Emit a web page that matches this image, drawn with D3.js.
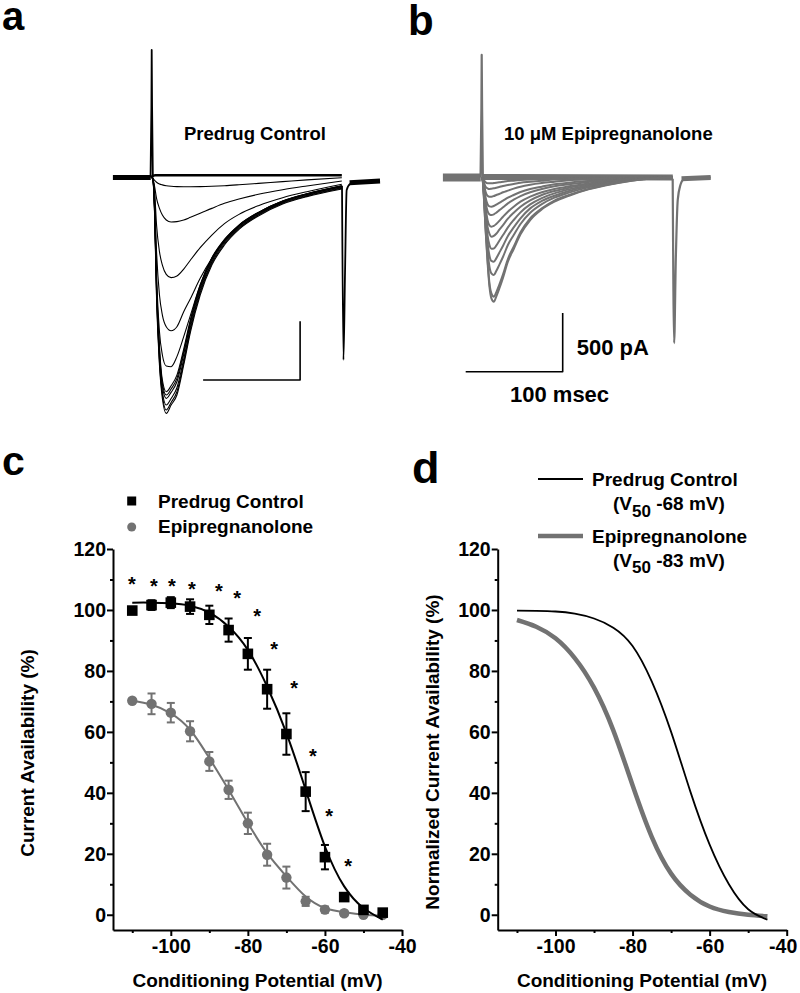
<!DOCTYPE html>
<html><head><meta charset="utf-8">
<script src="https://cdnjs.cloudflare.com/ajax/libs/d3/7.8.5/d3.min.js"></script>
<style>
body{margin:0;background:#fff}
svg{display:block}
text{font-family:"Liberation Sans",Arial,Helvetica,sans-serif;font-weight:bold;fill:#000}
</style>
</head><body>
<svg id="fig" width="800" height="993"></svg>
<script>
// ---------------- DATA ----------------
// panel a: predrug control current traces (time in ms, current in pA)
const traceTimesA = [0,1,3,5,8,11,15,20,26,33,40,50,62,75,90,110,135,160,196];
const tracesA = [
  [0,15,18,20,20,20,20,20,20,20,20,20,20,20,20,20,20,20,20],
  [0,-7,-25,-40,-55,-63,-70,-75,-78,-79,-79,-78,-75,-70,-62,-50,-35,-20,-2],
  [0,-7,-78,-178,-263,-320,-362,-379,-376,-362,-339,-305,-263,-220,-183,-143,-104,-72,-30],
  [0,-7,-121,-405,-632,-746,-825,-853,-839,-780,-703,-598,-490,-393,-314,-240,-172,-121,-58],
  [0,-7,-163,-632,-1001,-1172,-1271,-1305,-1271,-1143,-1030,-859,-689,-541,-413,-300,-203,-141,-70],
  [0,-7,-206,-831,-1314,-1512,-1606,-1612,-1526,-1356,-1172,-916,-689,-533,-405,-297,-200,-138,-70],
  [0,-7,-249,-888,-1441,-1725,-1825,-1774,-1683,-1461,-1206,-916,-683,-527,-405,-297,-200,-138,-72],
  [0,-7,-263,-916,-1470,-1754,-1853,-1802,-1711,-1484,-1223,-930,-692,-533,-410,-302,-206,-143,-78],
  [0,-7,-277,-944,-1498,-1782,-1882,-1830,-1740,-1506,-1243,-944,-703,-541,-416,-308,-209,-146,-81],
  [0,-7,-291,-973,-1541,-1825,-1938,-1882,-1791,-1546,-1271,-964,-717,-552,-425,-314,-214,-152,-87],
  [0,-7,-305,-1001,-1569,-1853,-1981,-1916,-1825,-1575,-1291,-981,-731,-564,-433,-320,-220,-158,-92],
  [0,-7,-320,-1030,-1597,-1882,-2009,-1938,-1853,-1597,-1314,-1001,-746,-575,-442,-328,-226,-163,-98]
];
const preBaseA = [[-40,0],[-1,0]];
const spikeA = [[-1.2,0],[-0.3,600],[0,1086],[0.4,600],[1.2,0]];
const tailA = [[196.2,-70],[197.7,-1554],[199.3,-814],[201,-107],[204.4,-55],[210.6,-38],[235.4,-30]];
const postBaseA = [[204,-45],[235.4,-30]];
const scaleBarA = [[53,-1725],[153,-1725],[153,-1225]];

// panel b: 10 uM epipregnanolone current traces
const traceTimesB = [0,1,2.5,4,6,8,10,12.5,15,18,22,27,33,40,50,62,75,90,110,135,160,197];
const tracesB = [
  [0,-7,-27,-41,-50,-50,-50,-47,-44,-41,-36,-30,-27,-21,-16,-13,-10,-7,-4,-1,-1,-1],
  [0,-10,-47,-78,-92,-98,-95,-92,-87,-81,-72,-64,-55,-44,-36,-27,-18,-13,-7,-4,-1,-1],
  [0,-10,-64,-121,-155,-163,-163,-158,-149,-141,-126,-112,-95,-78,-61,-47,-36,-24,-16,-7,-4,-1],
  [0,-13,-84,-169,-226,-246,-249,-243,-231,-217,-197,-172,-149,-124,-98,-78,-58,-44,-30,-16,-7,-1],
  [0,-13,-101,-206,-285,-314,-320,-314,-300,-280,-254,-220,-189,-158,-126,-98,-75,-58,-38,-21,-7,-1],
  [0,-16,-121,-249,-362,-408,-419,-413,-396,-371,-334,-291,-249,-206,-163,-126,-98,-75,-50,-27,-10,-1],
  [0,-16,-135,-283,-419,-481,-504,-498,-479,-447,-405,-351,-300,-249,-195,-149,-115,-87,-58,-30,-13,-1],
  [0,-18,-149,-320,-490,-575,-606,-604,-581,-541,-490,-425,-362,-297,-229,-175,-135,-101,-67,-36,-13,-1],
  [0,-18,-163,-354,-552,-666,-711,-717,-689,-643,-581,-498,-425,-348,-263,-200,-155,-115,-75,-41,-16,-1],
  [0,-21,-178,-391,-618,-760,-817,-831,-797,-746,-675,-575,-490,-396,-300,-226,-172,-129,-84,-44,-18,-1],
  [0,-21,-200,-433,-694,-902,-987,-1015,-978,-916,-825,-694,-589,-467,-348,-263,-197,-149,-98,-53,-21,-1],
  [0,-21,-206,-447,-717,-930,-1030,-1058,-1015,-950,-853,-717,-609,-484,-362,-271,-206,-155,-101,-55,-21,-1]
];
const preBaseB = [[-40,0],[-1,0]];
const bandB = [[1,5],[197,0]];
const spikeB = [[-1.2,0],[-0.3,600],[0,1044],[0.4,600],[1.2,0]];
const tailB = [[196.9,-10],[198.4,-1410],[200.1,-700],[202.1,-190],[205,-60],[208,-15],[212,0],[236.1,0]];
const postBaseB = [[206,-10],[236.1,0]];
const scaleBarB = [[-16.5,-1655],[83.5,-1655],[83.5,-1155]];

// panel c: steady-state availability (%)
const voltages = [-110,-105,-100,-95,-90,-85,-80,-75,-70,-65,-60,-55,-50,-45];
const controlMean = [99.8,101.6,102.4,101.1,98.4,93.4,85.6,74.0,59.3,40.4,18.9,5.8,1.6,0.7];
const controlSEM  = [0.5,1.6,1.8,2.4,3.0,3.8,5.2,6.4,6.8,6.4,4.0,1.0,0.8,0.5];
const epiMean = [70.2,69.2,66.3,60.2,50.3,41.0,30.0,19.7,12.2,4.4,1.7,0.5,0.0,0.0];
const epiSEM  = [0.5,3.4,3.2,3.3,3.1,3.0,3.5,3.6,3.6,1.5,1.0,0.8,0.5,0.5];
const controlFit = [102.4,102.4,102.2,101.4,99.1,94.5,86.9,74.9,59.6,41.0,22.4,9.3,2.2,-1.6];
const epiFit = [70.2,68.9,66.1,60.7,51.4,41.0,30.1,20.2,12.6,6.0,2.2,0.8,0.0,-0.3];
const starV = [-110.1,-104.4,-99.7,-94.5,-87.5,-82.8,-77.6,-73.2,-68,-63.1,-58.9,-54,-45];
const starY = [109.8,109.2,109.2,108.2,107.5,105.2,99.3,88.5,75.7,53.4,33.8,17.4,0.7];

// panel d: normalized fits
const normControl = [99.8,99.7,99.5,98.8,97.2,94.2,88.2,76.5,60.0,40.4,23.0,10.0,1.8,-1.6];
const normEpi = [96.7,94.5,90.7,84.2,74.5,60.5,42.5,25.5,13.5,6.6,2.7,0.9,0.0,-0.5];

const yMajor = [0,20,40,60,80,100,120];
const yMinor = [10,30,50,70,90,110];
const xMajor = [-100,-80,-60,-40];
const xMinor = [-110,-90,-70,-50];

// ---------------- DRAW ----------------
const GREY = "#727272";
const svg = d3.select("#fig");
svg.append("rect").attr("width",800).attr("height",993).attr("fill","#fff");

const tA = d3.scaleLinear().domain([0,100]).range([151.7,248.7]);
const tB = d3.scaleLinear().domain([0,100]).range([481.7,578.7]);
const iS = d3.scaleLinear().domain([0,-500]).range([177.5,236.2]);

function mkLine(tx, curve){ return d3.line().x(d=>tx(d[0])).y(d=>iS(d[1])).curve(curve); }
function path(g, d, color, w){
  g.append("path").attr("d", d).attr("fill","none").attr("stroke",color)
   .attr("stroke-width",w).attr("stroke-linejoin","round").attr("stroke-linecap","butt");
}

// panel a
const gA = svg.append("g");
const monoA = mkLine(tA, d3.curveMonotoneX), linA = mkLine(tA, d3.curveLinear);
path(gA, linA(preBaseA), "#000", 5);
tracesA.forEach((vals,k)=>{
  path(gA, monoA(traceTimesA.map((t,j)=>[t,vals[j]])), "#000", k===0?2.5:1.1);
});
path(gA, linA(spikeA), "#000", 1.8);
path(gA, monoA(tailA), "#000", 1.8);
path(gA, linA(postBaseA), "#000", 5);
path(gA, linA(scaleBarA), "#000", 1.6);

// panel b
const gB = svg.append("g");
const monoB = mkLine(tB, d3.curveMonotoneX), linB = mkLine(tB, d3.curveLinear);
path(gB, linB(preBaseB), GREY, 8);
path(gB, linB(bandB), GREY, 6);
tracesB.forEach(vals=>{
  path(gB, monoB(traceTimesB.map((t,j)=>[t,vals[j]])), GREY, 2);
});
path(gB, linB(spikeB), GREY, 2.2);
path(gB, monoB(tailB), GREY, 2.2);
path(gB, linB(postBaseB), GREY, 5);
path(gB, linB(scaleBarB), "#000", 1.6);

function txt(x,y,s,size,anchor){
  return svg.append("text").attr("x",x).attr("y",y).attr("font-size",size)
    .attr("text-anchor",anchor||"start").text(s);
}
txt(2,30,"a",40); txt(408,35,"b",42); txt(2,475,"c",41); txt(412,483,"d",45);
txt(184,140,"Predrug Control",18.5);
txt(504,140,"10 \u03BCM Epipregnanolone",18.5);
txt(576.7,355,"500 pA",22);
txt(510,401.7,"100 msec",22);

// panels c and d
const xC = d3.scaleLinear().domain([-115,-40]).range([113,402]);
const xD = d3.scaleLinear().domain([-115,-40]).range([497.7,786.7]);
const yS = d3.scaleLinear().domain([-5,120]).range([930,549]);

function axes(x, lastShift){
  const x0 = x.range()[0];
  const gy = svg.append("g").attr("transform",`translate(${x0},0)`);
  gy.call(d3.axisLeft(yS).tickValues(yMajor).tickSize(6).tickPadding(1).tickSizeOuter(0).tickFormat(d=>String(d)));
  const gym = svg.append("g").attr("transform",`translate(${x0},0)`);
  gym.call(d3.axisLeft(yS).tickValues(yMinor).tickSize(3).tickSizeOuter(0).tickFormat(""));
  gym.select(".domain").remove();
  const gx = svg.append("g").attr("transform",`translate(0,930)`);
  gx.call(d3.axisBottom(x).tickValues(xMajor).tickSize(6).tickPadding(3).tickSizeOuter(0).tickFormat(d=>String(d)));
  const gxm = svg.append("g").attr("transform",`translate(0,930)`);
  gxm.call(d3.axisBottom(x).tickValues(xMinor).tickSize(3).tickSizeOuter(0).tickFormat(""));
  gxm.select(".domain").remove();
  [gy,gym,gx,gxm].forEach(g=>{
    g.attr("font-size",19.5).attr("font-family",null);
    g.selectAll("path,line").attr("stroke","#000").attr("stroke-width",2);
    g.selectAll("text").attr("fill","#000");
  });
  if (lastShift) gx.selectAll(".tick text").filter(d=>d===-40).attr("dx", lastShift);
}
axes(xC, 0); axes(xD, -4);

svg.append("text").attr("transform","translate(34,753) rotate(-90)")
  .attr("text-anchor","middle").attr("font-size",19).text("Current Availability (%)");
svg.append("text").attr("transform","translate(439,752) rotate(-90)")
  .attr("text-anchor","middle").attr("font-size",19).text("Normalized Current Availability (%)");
txt(257.5,987,"Conditioning Potential (mV)",19,"middle");
txt(642,987,"Conditioning Potential (mV)",19,"middle");

// panel c plot
const gC = svg.append("g");
const fitLineC = d3.line().x((d,i)=>xC(voltages[i])).y(d=>yS(d)).curve(d3.curveNatural);
function errBars(mean, sem, color){
  voltages.forEach((v,i)=>{
    const cx = xC(v), y1 = yS(mean[i]+sem[i]), y2 = yS(mean[i]-sem[i]);
    gC.append("line").attr("x1",cx).attr("x2",cx).attr("y1",y1).attr("y2",y2).attr("stroke",color).attr("stroke-width",2);
    [y1,y2].forEach(yy=>gC.append("line").attr("x1",cx-4).attr("x2",cx+4).attr("y1",yy).attr("y2",yy).attr("stroke",color).attr("stroke-width",2));
  });
}
gC.append("path").attr("d",fitLineC(epiFit)).attr("fill","none").attr("stroke",GREY).attr("stroke-width",2);
errBars(epiMean, epiSEM, GREY);
voltages.forEach((v,i)=>gC.append("circle").attr("cx",xC(v)).attr("cy",yS(epiMean[i])).attr("r",5.2).attr("fill",GREY));
gC.append("path").attr("d",fitLineC(controlFit)).attr("fill","none").attr("stroke","#000").attr("stroke-width",2);
errBars(controlMean, controlSEM, "#000");
voltages.forEach((v,i)=>gC.append("rect").attr("x",xC(v)-5.3).attr("y",yS(controlMean[i])-5.3).attr("width",10.6).attr("height",10.6).attr("fill","#000"));
starV.forEach((v,i)=>gC.append("text").attr("x",xC(v)).attr("y",yS(starY[i])).attr("dy","0.56em")
  .attr("text-anchor","middle").attr("font-size",20).text("*"));

// legend c
gC.append("rect").attr("x",131.7-4.5).attr("y",501-4.5).attr("width",9).attr("height",9).attr("fill","#000");
gC.append("circle").attr("cx",131.7).attr("cy",527).attr("r",4.5).attr("fill",GREY);
txt(158,507.7,"Predrug Control",19);
txt(158,533.3,"Epipregnanolone",19);

// panel d plot
const gD = svg.append("g");
const fitLineD = d3.line().x((d,i)=>xD(voltages[i])).y(d=>yS(d)).curve(d3.curveNatural);
gD.append("path").attr("d",fitLineD(normEpi)).attr("fill","none").attr("stroke",GREY).attr("stroke-width",4.5);
gD.append("path").attr("d",fitLineD(normControl)).attr("fill","none").attr("stroke","#000").attr("stroke-width",1.8);
// legend d
gD.append("line").attr("x1",538).attr("x2",583).attr("y1",479).attr("y2",479).attr("stroke","#000").attr("stroke-width",1.8);
gD.append("line").attr("x1",538).attr("x2",583).attr("y1",536).attr("y2",536).attr("stroke",GREY).attr("stroke-width",4.5);
txt(592,486,"Predrug Control",19);
txt(592,542.7,"Epipregnanolone",19);
function v50(y, val){
  const t = svg.append("text").attr("x",613).attr("y",y).attr("font-size",19);
  t.append("tspan").text("(V");
  t.append("tspan").attr("font-size",17).attr("dy",6.5).text("50");
  t.append("tspan").attr("dy",-6.5).text(" " + val + " mV)");
}
v50(510,"-68");
v50(566.7,"-83");
</script>
</body></html>
